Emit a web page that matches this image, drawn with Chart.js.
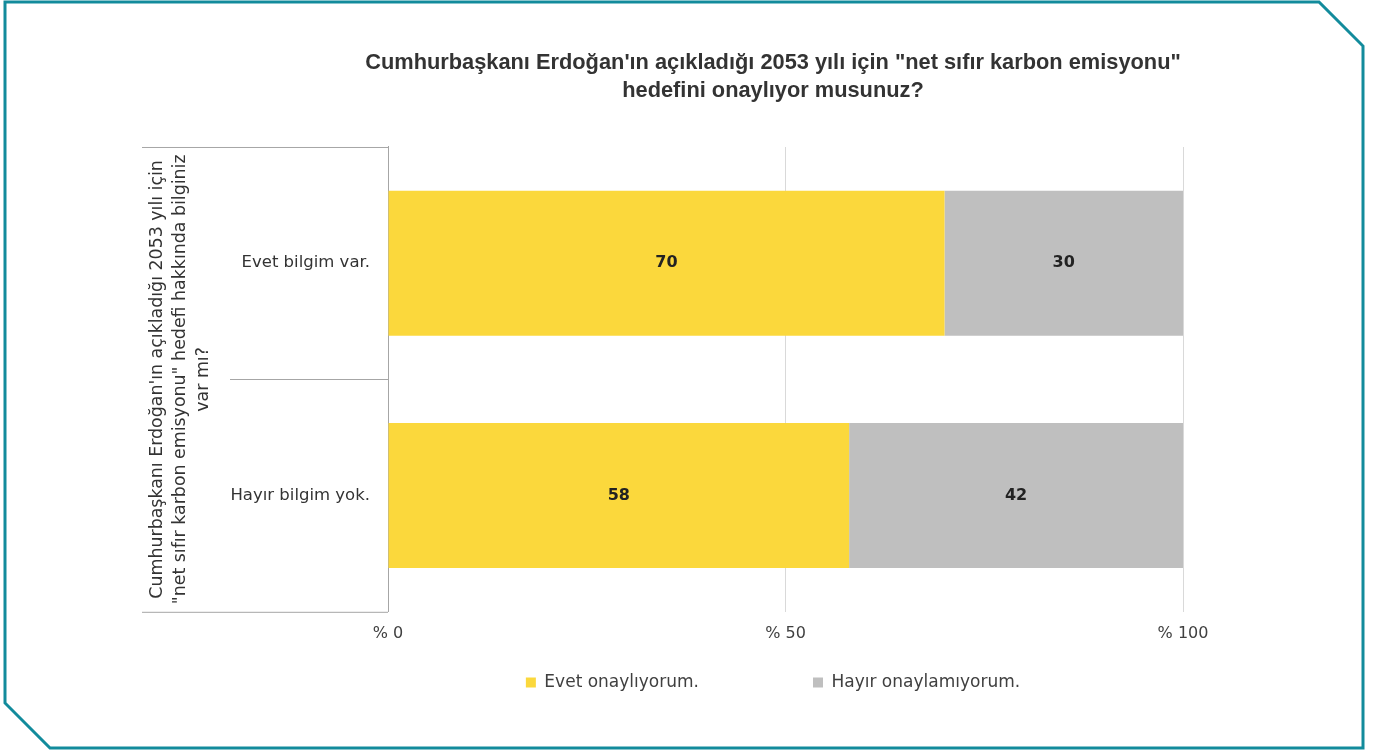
<!DOCTYPE html>
<html lang="tr">
<head>
    <meta charset="UTF-8">
    <title>Net sıfır karbon emisyonu hedefi</title>
    <script src="https://cdn.jsdelivr.net/npm/chart.js"></script>
    <style>
        html, body { margin: 0; padding: 0; background: #fff; }
        .chart-wrap { width: 1379px; height: 751px; }
    </style>
</head>
<body>
<div class="chart-wrap"><canvas id="karbonChart"></canvas></div>
<script>
    // veriler
    const categories = ['Evet bilgim var.', 'Hayır bilgim yok.'];
    const evetOnayliyorum = [70, 58];
    const hayirOnaylamiyorum = [30, 42];
    const seriesNames = ['Evet onaylıyorum.', 'Hayır onaylamıyorum.'];
    const xTickValues = [0, 50, 100];
    const titleLines = [
        'Cumhurbaşkanı Erdoğan\'ın açıkladığı 2053 yılı için "net sıfır karbon emisyonu"',
        'hedefini onaylıyor musunuz?'
    ];
    const groupTitleLines = [
        'Cumhurbaşkanı Erdoğan\'ın açıkladığı 2053 yılı için',
        '"net sıfır karbon emisyonu" hedefi hakkında bilginiz',
        'var mı?'
    ];

    const FONT = "'DejaVu Sans', sans-serif";
    const LINE = '#a6a6a6';

    // dış çerçeve (köşeleri kesik)
    const framePlugin = {
        id: 'frame',
        beforeDraw(chart) {
            const c = chart.ctx;
            c.save();
            c.strokeStyle = '#128b9c';
            c.lineWidth = 3;
            c.beginPath();
            c.moveTo(5, 2);
            c.lineTo(1319, 2);
            c.lineTo(1363, 46);
            c.lineTo(1363, 748);
            c.lineTo(50, 748);
            c.lineTo(5, 703);
            c.closePath();
            c.stroke();
            c.restore();
        }
    };

    // y ekseni: kategori adları, grup başlığı ve ayraç çizgileri
    const groupAxisPlugin = {
        id: 'groupAxis',
        afterDraw(chart) {
            const c = chart.ctx;
            const area = chart.chartArea;
            const y = chart.scales.y;
            const mid = (y.getPixelForValue(0) + y.getPixelForValue(1)) / 2;
            c.save();
            c.strokeStyle = LINE;
            c.lineWidth = 1;
            c.beginPath();
            c.moveTo(142, area.top + 0.5); c.lineTo(area.left, area.top + 0.5);
            c.moveTo(230, Math.round(mid) + 0.5); c.lineTo(area.left, Math.round(mid) + 0.5);
            c.moveTo(142, area.bottom + 0.5); c.lineTo(area.left, area.bottom + 0.5);
            c.stroke();

            c.fillStyle = '#333';
            c.font = '16.5px ' + FONT;
            c.textAlign = 'right';
            c.textBaseline = 'middle';
            categories.forEach((name, i) => {
                c.fillText(name, area.left - 18, y.getPixelForValue(i));
            });

            c.translate(180, (area.top + area.bottom) / 2);
            c.rotate(-Math.PI / 2);
            c.font = '17.4px ' + FONT;
            c.textAlign = 'center';
            groupTitleLines.forEach((t, i) => {
                c.fillText(t, 0, (i - 1) * 23);
            });
            c.restore();
        }
    };

    // çubuk üstü değerler
    const valueLabelPlugin = {
        id: 'valueLabels',
        afterDatasetsDraw(chart) {
            const c = chart.ctx;
            c.save();
            c.fillStyle = '#222';
            c.font = 'bold 16px ' + FONT;
            c.textAlign = 'center';
            c.textBaseline = 'middle';
            chart.data.datasets.forEach((ds, di) => {
                chart.getDatasetMeta(di).data.forEach((bar, i) => {
                    c.fillText(ds.data[i], (bar.x + bar.base) / 2, bar.y);
                });
            });
            c.restore();
        }
    };

    new Chart(document.getElementById('karbonChart'), {
        type: 'bar',
        data: {
            labels: categories,
            datasets: [
                { label: seriesNames[0], data: evetOnayliyorum, backgroundColor: '#fbd83c' },
                { label: seriesNames[1], data: hayirOnaylamiyorum, backgroundColor: '#bfbfbf' }
            ]
        },
        options: {
            indexAxis: 'y',
            responsive: true,
            maintainAspectRatio: false,
            animation: false,
            datasets: { bar: { barPercentage: 0.624, categoryPercentage: 1 } },
            layout: { padding: { left: 363, right: 196, top: 0, bottom: 50 } },
            scales: {
                x: {
                    stacked: true,
                    min: 0,
                    max: 100,
                    afterBuildTicks: s => { s.ticks = xTickValues.map(v => ({ value: v })); },
                    afterFit: s => { s.height += 7; },
                    ticks: {
                        callback: v => '% ' + v,
                        color: '#404040',
                        padding: 12,
                        font: { family: FONT, size: 16 }
                    },
                    grid: {
                        drawTicks: false,
                        color: ctx => (ctx.tick && ctx.tick.value === 0) ? 'rgba(0,0,0,0)' : '#d9d9d9'
                    },
                    border: { display: false }
                },
                y: {
                    stacked: true,
                    afterFit: s => { s.width = 25; },
                    ticks: { display: false },
                    grid: { display: false, drawTicks: false },
                    border: { display: true, color: LINE }
                }
            },
            plugins: {
                title: {
                    display: true,
                    text: titleLines,
                    color: '#333',
                    font: { family: "'Liberation Sans', Arial, sans-serif", size: 21.8, weight: 'bold', lineHeight: 1.33 },
                    padding: { top: 48, bottom: 41 }
                },
                legend: {
                    position: 'bottom',
                    labels: {
                        boxWidth: 10,
                        boxHeight: 10,
                        padding: 12,
                        color: '#404040',
                        font: { family: FONT, size: 17 },
                        generateLabels(chart) {
                            const items = Chart.defaults.plugins.legend.labels.generateLabels(chart);
                            items[0].text += '\u2003'.repeat(6);
                            return items;
                        }
                    }
                },
                tooltip: { enabled: false }
            }
        },
        plugins: [framePlugin, groupAxisPlugin, valueLabelPlugin]
    });
</script>
</body>
</html>
